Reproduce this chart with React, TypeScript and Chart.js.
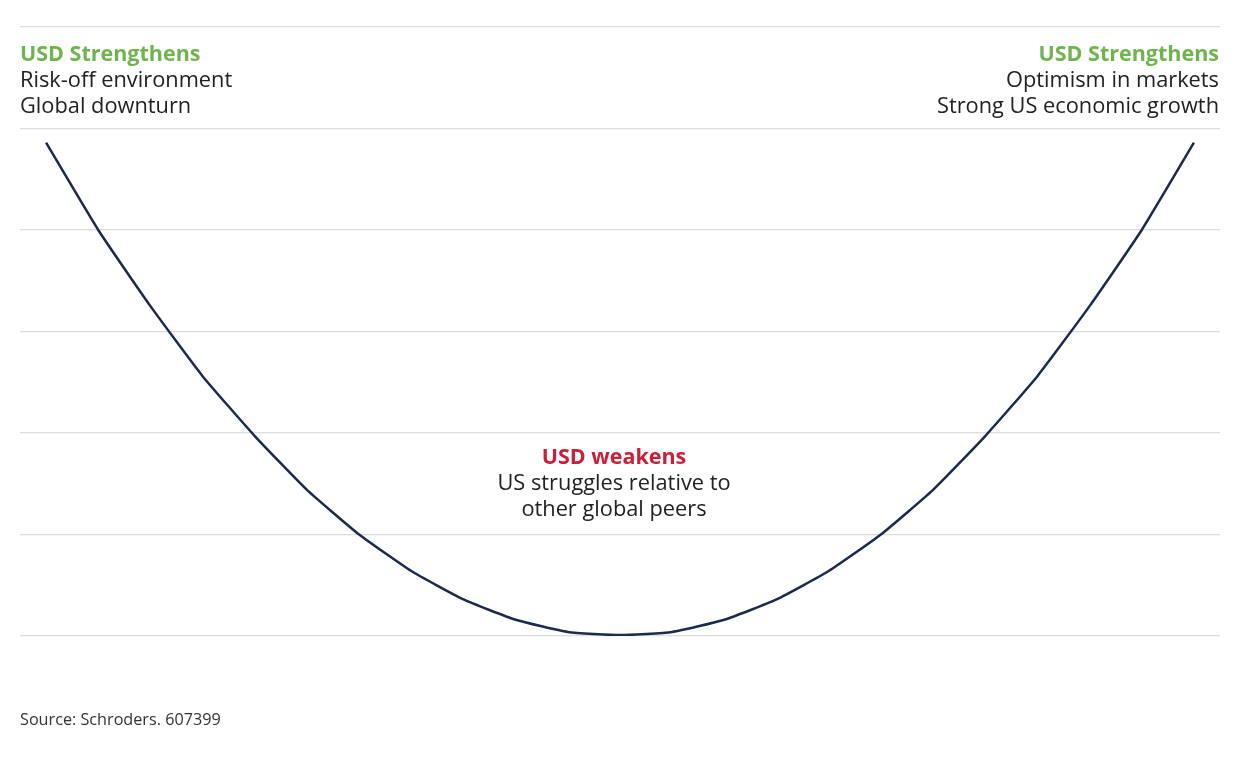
import React, { useEffect, useRef } from "react";
import { Chart, registerables } from "chart.js";

Chart.register(...registerables);

// Economic-cycle positions (unlabelled x axis)
const positions: string[] = [
  "", "", "", "", "", "", "", "", "", "", "", "",
  "", "", "", "", "", "", "", "", "", "", "",
];
// Relative USD strength along the "dollar smile"
const usdStrength: number[] = [
  4.86, 4.0, 3.25, 2.56, 1.97, 1.44, 1.0, 0.64, 0.36, 0.16, 0.04, 0.01,
  0.04, 0.16, 0.36, 0.64, 1.0, 1.44, 1.97, 2.56, 3.25, 4.0, 4.86,
];
const yTicks: number[] = [0, 1, 2, 3, 4, 5, 6];

const leftTitle = "USD Strengthens";
const leftLines = ["Risk-off environment", "Global downturn"];
const rightTitle = "USD Strengthens";
const rightLines = ["Optimism in markets", "Strong US economic growth"];
const midTitle = "USD weakens";
const midLines = ["US struggles relative to", "other global peers"];
const sourceText = "Source: Schroders. 607399";

const FONT = "'Open Sans', 'Noto Sans', sans-serif";
const GREEN = "#6db54c";
const RED = "#c8203a";
const TEXT = "#222222";

const annotationPlugin = {
  id: "smileAnnotations",
  afterDraw(chart: any) {
    const ctx: CanvasRenderingContext2D = chart.ctx;
    ctx.save();
    ctx.textBaseline = "middle";
    const lh = 26;
    // left block
    ctx.textAlign = "left";
    ctx.font = `bold 21.5px ${FONT}`;
    ctx.fillStyle = GREEN;
    ctx.fillText(leftTitle, 20, 55);
    ctx.font = `21.8px ${FONT}`;
    ctx.fillStyle = TEXT;
    leftLines.forEach((t, i) => ctx.fillText(t, 20, 55 + lh * (i + 1)));
    // right block
    ctx.textAlign = "right";
    ctx.font = `bold 21.5px ${FONT}`;
    ctx.fillStyle = GREEN;
    ctx.fillText(rightTitle, 1219, 55);
    ctx.font = `21.8px ${FONT}`;
    ctx.fillStyle = TEXT;
    rightLines.forEach((t, i) => ctx.fillText(t, 1219, 55 + lh * (i + 1)));
    // middle block
    ctx.textAlign = "center";
    ctx.font = `bold 21.5px ${FONT}`;
    ctx.fillStyle = RED;
    ctx.fillText(midTitle, 614, 458);
    ctx.font = `21.8px ${FONT}`;
    ctx.fillStyle = TEXT;
    midLines.forEach((t, i) => ctx.fillText(t, 614, 458 + 26 * (i + 1)));
    // source
    ctx.textAlign = "left";
    ctx.font = `16.2px ${FONT}`;
    ctx.fillStyle = "#333333";
    ctx.fillText(sourceText, 20, 720);
    ctx.restore();
  },
};

export default function App() {
  const ref = useRef<HTMLCanvasElement | null>(null);
  useEffect(() => {
    if (!ref.current) return;
    const chart = new Chart(ref.current, {
      type: "line",
      data: {
        labels: positions,
        datasets: [
          {
            data: usdStrength,
            borderColor: "#1c2b4b",
            borderWidth: 2.5,
            pointRadius: 0,
            tension: 0.15,
            fill: false,
          },
        ],
      },
      options: {
        responsive: false,
        animation: false,
        layout: { padding: { left: 20, right: 20, top: 27, bottom: 126 } },
        plugins: { legend: { display: false }, tooltip: { enabled: false } },
        scales: {
          x: {
            type: "category",
            offset: true,
            grid: { display: false },
            border: { display: false },
            ticks: { display: false },
          },
          y: {
            min: 0,
            max: 6,
            afterBuildTicks: (axis: any) => {
              axis.ticks = yTicks.map((v) => ({ value: v }));
            },
            grid: { color: "#dcdcdc", lineWidth: 1.2, drawTicks: false },
            border: { display: false },
            ticks: { display: false },
          },
        },
      },
      plugins: [annotationPlugin],
    });
    return () => chart.destroy();
  }, []);
  return (
    <div style={{ position: "fixed", left: 0, top: 0, width: 1240, height: 770, background: "#fff" }}>
      <canvas ref={ref} width={1240} height={770} style={{ width: 1240, height: 770, display: "block" }} />
    </div>
  );
}
